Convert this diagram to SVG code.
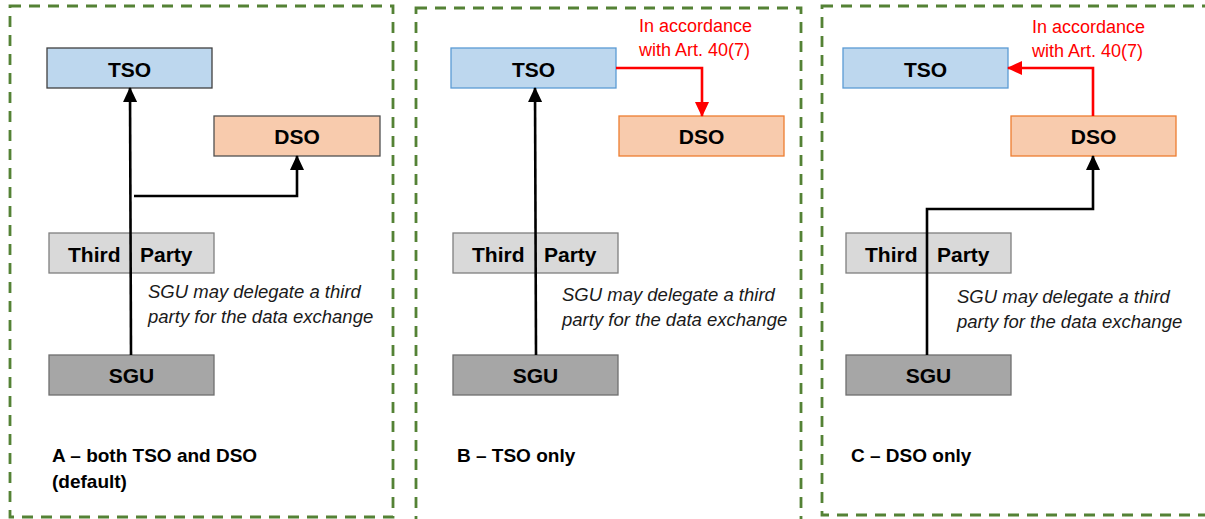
<svg xmlns="http://www.w3.org/2000/svg" width="1205" height="519" viewBox="0 0 1205 519">
<style>
.panel{fill:none;stroke:#548235;stroke-width:2.8;stroke-dasharray:11 8}
.box{stroke-width:1.3}
.tso{fill:#bdd7ee}
.dso{fill:#f8cbad}
.tp{fill:#d9d9d9;stroke:#7f7f7f}
.sgu{fill:#a6a6a6;stroke:#6f6f6f}
.lbl{font-family:"Liberation Sans",Arial,sans-serif;font-weight:bold;font-size:21px;fill:#000}
.cap{font-family:"Liberation Sans",Arial,sans-serif;font-weight:bold;font-size:19px;fill:#000}
.note{font-family:"Liberation Sans",Arial,sans-serif;font-style:italic;font-size:18.5px;fill:#1a1a1a}
.red{font-family:"Liberation Sans",Arial,sans-serif;font-size:18px;fill:#ff0000}
.blk{fill:none;stroke:#000;stroke-width:2.6;marker-end:url(#ab)}
.rd{fill:none;stroke:#ff0000;stroke-width:2.6;marker-end:url(#ar)}
</style>
<defs>
<marker id="ab" markerUnits="userSpaceOnUse" markerWidth="15" markerHeight="14" refX="14" refY="7" orient="auto"><path d="M0,0 L15,7 L0,14 z" fill="#000"/></marker>
<marker id="ar" markerUnits="userSpaceOnUse" markerWidth="15" markerHeight="14" refX="14" refY="7" orient="auto"><path d="M0,0 L15,7 L0,14 z" fill="#ff0000"/></marker>
</defs>
<rect width="1205" height="519" fill="#fff"/>
<g id="panels">
<rect class="panel" x="10" y="6" width="383" height="511"/>
<rect class="panel" x="416" y="8" width="385" height="530"/>
<rect class="panel" x="822" y="6" width="395" height="509"/>
</g>
<g id="panelA">
<g id="A-TSO"><rect class="box tso" x="47" y="48" width="165" height="40" stroke="#404040"/><text class="lbl" x="129.5" y="77" text-anchor="middle">TSO</text></g>
<g id="A-DSO"><rect class="box dso" x="214" y="116" width="166" height="40" stroke="#505050"/><text class="lbl" x="297" y="144" text-anchor="middle">DSO</text></g>
<g id="A-TP"><rect class="box tp" x="49" y="233" width="165" height="40"/><text class="lbl" y="262"><tspan x="68">Third</tspan> <tspan x="140">Party</tspan></text></g>
<g id="A-SGU"><rect class="box sgu" x="49" y="355" width="165" height="40"/><text class="lbl" x="131.5" y="383" text-anchor="middle">SGU</text></g>
<text class="note" x="148"><tspan x="148" y="298">SGU may delegate a third</tspan><tspan x="148" y="323">party for the data exchange</tspan></text>
<text class="cap"><tspan x="52" y="462">A – both TSO and DSO</tspan><tspan x="52" y="488">(default)</tspan></text>
</g>
<g id="panelB">
<g id="B-TSO"><rect class="box tso" x="451" y="48" width="165" height="40" stroke="#5b9bd5"/><text class="lbl" x="533.5" y="77" text-anchor="middle">TSO</text></g>
<g id="B-DSO"><rect class="box dso" x="619" y="116" width="165" height="40" stroke="#ed7d31"/><text class="lbl" x="701.5" y="144" text-anchor="middle">DSO</text></g>
<g id="B-TP"><rect class="box tp" x="453" y="233" width="165" height="40"/><text class="lbl" y="262"><tspan x="472">Third</tspan> <tspan x="544">Party</tspan></text></g>
<g id="B-SGU"><rect class="box sgu" x="453" y="355" width="165" height="40"/><text class="lbl" x="535.5" y="383" text-anchor="middle">SGU</text></g>
<text class="note"><tspan x="562" y="301">SGU may delegate a third</tspan><tspan x="562" y="326">party for the data exchange</tspan></text>
<text class="red"><tspan x="639" y="32">In accordance</tspan><tspan x="639" y="56">with Art. 40(7)</tspan></text>
<text class="cap" x="457" y="462">B – TSO only</text>
</g>
<g id="panelC">
<g id="C-TSO"><rect class="box tso" x="843" y="48" width="165" height="40" stroke="#5b9bd5"/><text class="lbl" x="925.5" y="77" text-anchor="middle">TSO</text></g>
<g id="C-DSO"><rect class="box dso" x="1011" y="116" width="165" height="40" stroke="#ed7d31"/><text class="lbl" x="1093.5" y="144" text-anchor="middle">DSO</text></g>
<g id="C-TP"><rect class="box tp" x="846" y="233" width="165" height="40"/><text class="lbl" y="262"><tspan x="865">Third</tspan> <tspan x="937">Party</tspan></text></g>
<g id="C-SGU"><rect class="box sgu" x="846" y="355" width="165" height="40"/><text class="lbl" x="928.5" y="383" text-anchor="middle">SGU</text></g>
<text class="note"><tspan x="957" y="303">SGU may delegate a third</tspan><tspan x="957" y="328">party for the data exchange</tspan></text>
<text class="red"><tspan x="1032" y="33">In accordance</tspan><tspan x="1032" y="57">with Art. 40(7)</tspan></text>
<text class="cap" x="851" y="462">C – DSO only</text>
</g>
<g id="connectors">
<path class="blk" d="M131,355 L130,88"/>
<path class="blk" d="M134,196 L297,196 L297,156"/>
<path class="blk" d="M536,355 L535,88"/>
<path class="rd" d="M616,68 L702,68 L702,116"/>
<path class="blk" d="M927,355 L927,209 L1093,209 L1093,156"/>
<path class="rd" d="M1093,116 L1093,68 L1008,68"/>
</g>
</svg>
